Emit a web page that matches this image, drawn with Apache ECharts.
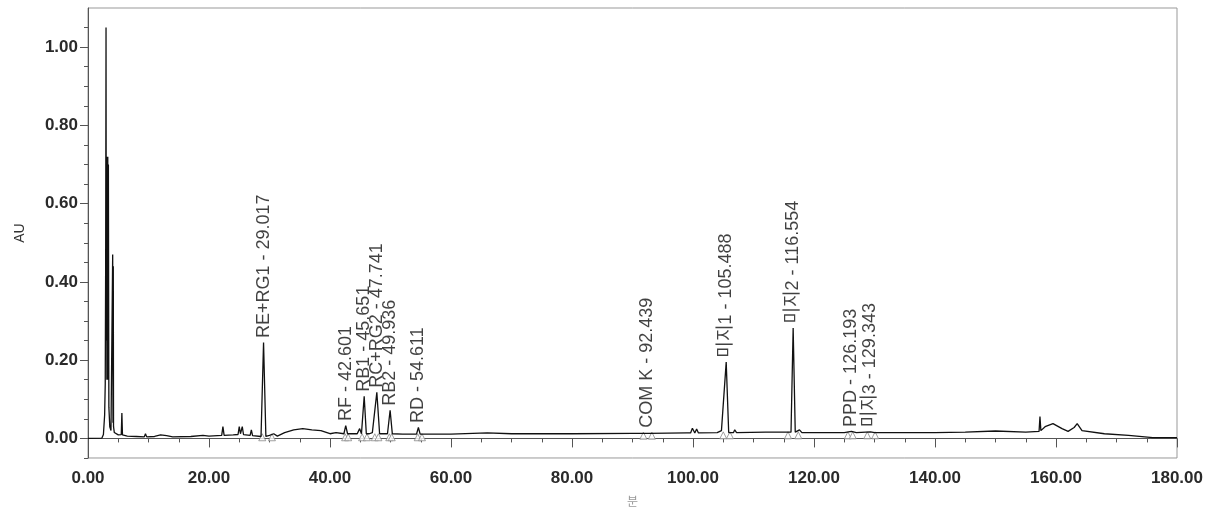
<!DOCTYPE html>
<html>
<head>
<meta charset="utf-8">
<script src="https://cdn.jsdelivr.net/npm/echarts@6/dist/echarts.min.js"></script>
<style>
  html, body { margin: 0; padding: 0; background: #fff; }
  #chart { width: 1215px; height: 512px; }
</style>
</head>
<body>
<div id="chart"></div>
<script>
// chromatogram trace (minutes, AU)
var traceMin = [0, 2.3, 2.55, 2.75, 2.85, 2.92, 2.98, 3.03, 3.07, 3.12, 3.17, 3.22, 3.27, 3.32, 3.37, 3.45, 3.6, 3.8,
  4.0, 4.08, 4.13, 4.18, 4.22, 4.35, 4.6, 5.0, 5.5, 5.6, 5.7, 6.5, 8, 9.3, 9.5, 9.7, 11, 12, 13, 14, 17, 19, 20,
  22.1, 22.3, 22.5, 24, 24.8, 25.0, 25.2, 25.5, 25.7, 26.8, 27.0, 27.2, 28.6, 29.017, 29.4, 30, 30.7, 31.3,
  32.5, 34, 35.5, 37, 38.5, 40, 41, 42.3, 42.6, 42.9, 44.5, 44.9, 45.2, 45.651, 46.0, 46.5, 47.0, 47.741, 48.2,
  49.5, 49.936, 50.3, 52, 54.3, 54.611, 54.9, 60, 66, 70, 80, 90, 92.2, 92.439, 92.7, 99, 99.6, 99.9, 100.3,
  100.6, 100.9, 104, 104.7, 105.0, 105.488, 105.9, 106.7, 106.9, 107.2, 112, 116.2, 116.554, 116.9, 117.6,
  118.0, 125, 126.193, 127, 129.343, 130, 140, 145, 150, 155, 157.2, 157.35, 157.5, 158.2, 159.5, 161, 162,
  163.0, 163.5, 164.3, 168, 172, 176, 180];
var traceAU = [0.000, 0.001, 0.010, 0.060, 0.140, 0.450, 1.050, 0.250, 0.720, 0.150, 0.720, 0.150, 0.720, 0.150, 0.700, 0.080, 0.030, 0.020,
  0.025, 0.470, 0.040, 0.440, 0.030, 0.015, 0.010, 0.009, 0.010, 0.065, 0.009, 0.006, 0.005, 0.004, 0.012, 0.004, 0.005, 0.009, 0.007, 0.004, 0.005, 0.008, 0.006,
  0.008, 0.030, 0.008, 0.009, 0.010, 0.030, 0.012, 0.030, 0.010, 0.008, 0.022, 0.007, 0.005, 0.245, 0.005, 0.008, 0.012, 0.006,
  0.015, 0.022, 0.025, 0.022, 0.020, 0.012, 0.015, 0.012, 0.033, 0.012, 0.012, 0.025, 0.012, 0.108, 0.012, 0.012, 0.015, 0.118, 0.012,
  0.012, 0.072, 0.012, 0.011, 0.011, 0.028, 0.011, 0.011, 0.014, 0.012, 0.012, 0.013, 0.013, 0.016, 0.013, 0.014, 0.014, 0.026, 0.014,
  0.024, 0.014, 0.015, 0.020, 0.015, 0.195, 0.015, 0.015, 0.022, 0.015, 0.016, 0.016, 0.282, 0.016, 0.022,
  0.015, 0.015, 0.018, 0.015, 0.017, 0.015, 0.015, 0.016, 0.019, 0.016, 0.018, 0.056, 0.020, 0.030, 0.038, 0.025, 0.018,
  0.028, 0.038, 0.020, 0.012, 0.008, 0.002, 0.002];

// labelled peaks
var peakNames = ['RE+RG1', 'RF', 'RB1', 'RC+RG2', 'RB2', 'RD', 'COM K', '미지1', '미지2', 'PPD', '미지3'];
var peakTimes = [29.017, 42.601, 45.651, 47.741, 49.936, 54.611, 92.439, 105.488, 116.554, 126.193, 129.343];
var peakAU = [0.245, 0.033, 0.108, 0.118, 0.072, 0.028, 0.016, 0.195, 0.282, 0.018, 0.017];

// peak start / end triangles
var markerMin = [28.8, 30.4, 42.5, 43.0, 45.3, 46.1, 47.4, 48.0, 49.8, 50.2, 54.5, 55.2,
  91.8, 93.2, 105.0, 106.1, 115.7, 117.4, 125.6, 126.4, 128.8, 130.1];
var markerAU = [0.003, 0.003, 0.003, 0.003, 0.003, 0.003, 0.003, 0.003, 0.003, 0.003, 0.003, 0.003,
  0.007, 0.007, 0.008, 0.008, 0.008, 0.008, 0.008, 0.008, 0.008, 0.008];

var yMajorTicks = [0, 0.2, 0.4, 0.6, 0.8, 1.0];
var yMinorTicks = [-0.05, 0.05, 0.1, 0.15, 0.25, 0.3, 0.35, 0.45, 0.5, 0.55, 0.65, 0.7, 0.75, 0.85, 0.9, 0.95, 1.05];

var trace = traceMin.map(function (t, i) { return [t, traceAU[i]]; });
var peaks = peakNames.map(function (n, i) {
  return { name: n, value: [peakTimes[i], peakAU[i]] };
});
var markers = markerMin.map(function (t, i) { return [t, markerAU[i]]; });

var tickFont = { fontFamily: 'Liberation Sans, Arial, sans-serif', fontSize: 17, fontWeight: 'bold', color: '#2a2a2a' };

var chart = echarts.init(document.getElementById('chart'));
var option = {
  animation: false,
  backgroundColor: '#fff',
  grid: { left: 88, right: 38, top: 8, bottom: 54, show: true, borderColor: '#999', borderWidth: 1 },
  xAxis: {
    type: 'value',
    min: 0, max: 180, interval: 20,
    name: '분',
    nameLocation: 'middle',
    nameGap: 37,
    nameTextStyle: { fontFamily: 'Noto Sans CJK KR', fontSize: 12, color: '#999' },
    axisLine: { lineStyle: { color: '#555', width: 1 } },
    axisTick: { length: 9, lineStyle: { color: '#555' } },
    minorTick: { show: true, splitNumber: 4, length: 4, lineStyle: { color: '#555' } },
    splitLine: { show: false },
    axisLabel: Object.assign({ margin: 12, formatter: function (v) { return v.toFixed(2); } }, tickFont)
  },
  yAxis: [{
    type: 'value',
    min: -0.05, max: 1.1,
    name: 'AU',
    nameLocation: 'middle',
    nameGap: 61,
    nameTextStyle: { fontFamily: 'Liberation Sans, Arial', fontSize: 14, color: '#333' },
    axisLine: { show: true, lineStyle: { color: '#555', width: 1 } },
    axisTick: { show: true, length: 8, customValues: yMajorTicks, lineStyle: { color: '#555' } },
    splitLine: { show: false },
    axisLabel: Object.assign({ margin: 10, customValues: yMajorTicks, formatter: function (v) { return v.toFixed(2); } }, tickFont)
  }, {
    type: 'value',
    min: -0.05, max: 1.1,
    position: 'left',
    axisLine: { show: false },
    axisTick: { show: true, length: 4, customValues: yMinorTicks, lineStyle: { color: '#555' } },
    splitLine: { show: false },
    axisLabel: { show: false }
  }],
  series: [
    {
      type: 'line',
      data: trace,
      showSymbol: false,
      symbol: 'none',
      lineStyle: { color: '#111', width: 1.3 },
      z: 3
    },
    {
      type: 'scatter',
      data: markers,
      symbol: 'triangle',
      symbolSize: 7,
      itemStyle: { color: '#fff', borderColor: '#888', borderWidth: 1 },
      z: 2
    },
    {
      type: 'scatter',
      data: peaks,
      symbolSize: 1,
      itemStyle: { color: 'rgba(0,0,0,0)' },
      label: {
        show: true,
        position: 'top',
        distance: 4,
        rotate: 90,
        align: 'left',
        verticalAlign: 'middle',
        fontFamily: 'Liberation Sans, Arial, Noto Sans CJK KR',
        fontSize: 18,
        color: '#111',
        formatter: function (p) { return p.name + ' - ' + p.value[0].toFixed(3); }
      },
      z: 4
    }
  ]
};
chart.setOption(option);
</script>
</body>
</html>
